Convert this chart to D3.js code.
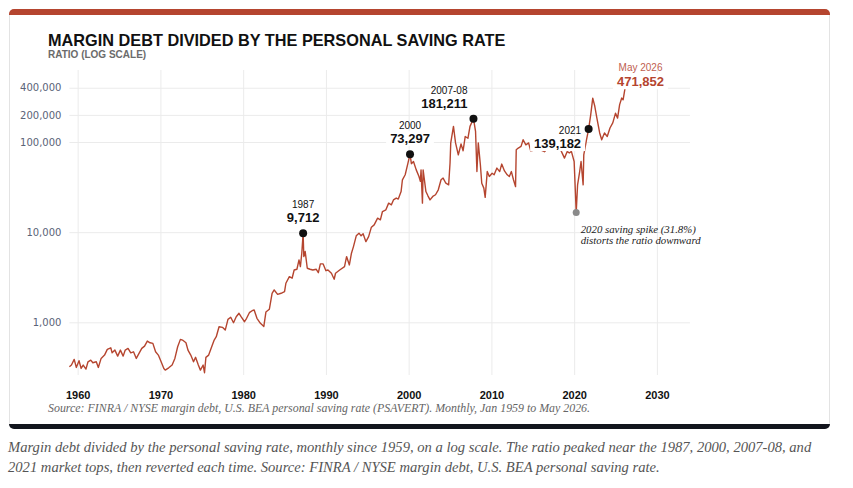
<!DOCTYPE html>
<html>
<head>
<meta charset="utf-8">
<script src="https://cdn.jsdelivr.net/npm/d3@7"></script>
<style>
  body { margin: 0; background: #fff; }
  svg { display: block; }
</style>
</head>
<body>
<div id="chart"></div>
<script>
// monthly ratio (a subset of months)
const dates = [
  "1959-01","1959-04","1959-08","1959-11","1960-03","1960-06","1960-09","1961-01","1961-04","1961-08","1961-11",
  "1962-04","1962-07","1962-11","1963-04","1963-08","1964-01","1964-03","1964-07","1964-11","1965-03","1965-07",
  "1965-10","1966-02","1966-06","1966-10","1967-02","1967-06","1967-10","1968-02","1968-06","1968-10","1969-02",
  "1969-06","1969-10","1970-02","1970-06","1970-08","1971-01","1971-06","1971-10","1972-02","1972-06","1972-09",
  "1973-02","1973-05","1973-09","1974-01","1974-04","1974-08","1974-11","1975-03","1975-05","1975-07","1975-11",
  "1976-03","1976-07","1976-10","1977-02","1977-07","1977-11","1978-03","1978-07","1978-11","1979-03","1979-07",
  "1979-10","1980-03","1980-06","1980-10","1981-02","1981-05","1981-09","1982-02","1982-07","1982-10","1983-03",
  "1983-07","1983-10","1984-03","1984-08","1985-01","1985-03","1985-08","1985-12","1986-03","1986-07","1986-10",
  "1986-12","1987-02","1987-04","1987-05","1987-07","1987-10","1988-02","1988-06","1988-11","1989-02","1989-05",
  "1989-09","1990-01","1990-04","1990-09","1991-01","1991-03","1991-09","1992-04","1992-07","1992-11","1993-02",
  "1993-05","1993-09","1994-01","1994-04","1994-07","1994-11","1995-03","1995-07","1995-11","1996-04","1996-08",
  "1996-11","1997-04","1997-08","1997-12","1998-03","1998-07","1998-10","1999-02","1999-04","1999-08","1999-12",
  "2000-03","2000-05","2000-08","2000-12","2001-04","2001-06","2001-07","2001-09","2001-10","2002-02","2002-05",
  "2002-08","2002-12","2003-04","2003-08","2003-12","2004-03","2004-07","2004-11","2005-01","2005-02","2005-06",
  "2005-09","2006-01","2006-05","2006-08","2006-11","2007-03","2007-06","2007-11","2008-02","2008-04","2008-06",
  "2008-09","2008-11","2009-02","2009-04","2009-07","2009-10","2010-02","2010-05","2010-09","2011-01","2011-04",
  "2011-08","2011-12","2012-03","2012-06","2012-09","2012-12","2013-01","2013-04","2013-08","2013-11","2014-03",
  "2014-07","2014-10","2015-06","2015-12","2016-06","2017-01","2017-08","2018-03","2018-11","2019-03","2019-06",
  "2019-09","2020-01","2020-04","2020-06","2020-09","2020-11","2021-02","2021-03","2021-07","2021-10","2022-01",
  "2022-04","2022-07","2022-10","2023-02","2023-05","2023-09","2024-01","2024-05","2024-09","2025-01","2025-04",
  "2025-07","2025-10","2025-12","2026-03","2026-05"
];
const ratio = [
  321, 336, 388, 316, 375, 308, 336, 303, 365, 381, 356,
  365, 316, 398, 433, 501, 522, 459, 492, 422, 492, 422,
  492, 514, 459, 471, 398, 452, 514, 545, 620, 593, 584,
  471, 433, 365, 308, 295, 313, 336, 398, 536, 647, 636,
  593, 492, 433, 365, 409, 336, 295, 336, 276, 409, 433,
  527, 636, 692, 894, 880, 821, 1080, 1137, 990, 1154, 1259,
  1154, 1015, 1108, 1279, 1346, 1370, 1108, 975, 900, 1300, 1394,
  2100, 2286, 2045, 2100, 2188, 2713, 3213, 3085, 3805, 3877, 4930,
  4145, 5840, 9712, 5360, 6100, 3980, 3877, 3805, 3877, 3553, 4446,
  4446, 3740, 3805, 3503, 3006, 3503, 3805, 4145, 5360, 4330, 5840,
  6920, 9100, 9750, 9100, 9580, 7850, 8930, 11360, 12050, 14300, 13700,
  16950, 17700, 21000, 20100, 22800, 23900, 23300, 28200, 38100, 43300, 58400,
  73297, 57500, 60800, 49100, 41500, 36600, 49100, 21000, 49100, 28200, 25300,
  22800, 24900, 26000, 29500, 38100, 39800, 34900, 33500, 58400, 97800, 149000,
  97800, 71900, 95000, 80000, 115000, 110000, 149000, 181211, 131000, 47000, 97800,
  56000, 34900, 30800, 24300, 47000, 41500, 45100, 43300, 51400, 47000, 56900,
  47800, 43300, 41500, 47000, 38100, 32000, 82000, 85700, 89500, 106000, 93000,
  97800, 79800, 82000, 82000, 78000, 88000, 95000, 90000, 66300, 78600, 75600,
  78600, 60800, 16550, 33500, 47000, 60800, 33500, 71900, 106000, 139182, 200000,
  307000, 249000, 184000, 126000, 106000, 126000, 115000, 143000, 163000, 209000, 184000,
  260000, 307000, 294000, 400000, 471852
];

const yTicks = [1000, 10000, 100000, 200000, 400000];
const xTicks = [1960, 1970, 1980, 1990, 2000, 2010, 2020, 2030];

const peakDates = ["1987-04", "2000-03", "2007-11", "2021-10"];
const peakNames = ["1987", "2000", "2007-08", "2021"];
const spikeDate = "2020-04";
const spikeNote = ["2020 saving spike (31.8%)", "distorts the ratio downward"];

const title = "MARGIN DEBT DIVIDED BY THE PERSONAL SAVING RATE";
const subtitle = "RATIO (LOG SCALE)";
const source = "Source: FINRA / NYSE margin debt, U.S. BEA personal saving rate (PSAVERT). Monthly, Jan 1959 to May 2026.";
const caption = [
  "Margin debt divided by the personal saving rate, monthly since 1959, on a log scale. The ratio peaked near the 1987, 2000, 2007-08, and",
  "2021 market tops, then reverted each time. Source: FINRA / NYSE margin debt, U.S. BEA personal saving rate."
];

const red = "#b5452f";
const sans = "'Liberation Sans', Arial, sans-serif";
const serif = "'Liberation Serif', Georgia, serif";

const width = 853, height = 488;
const plot = { left: 69.4, right: 690, top: 70, bottom: 375 };

const svg = d3.select("#chart").append("svg")
  .attr("width", width)
  .attr("height", height);

const parse = d3.timeParse("%Y-%m");
const data = dates.map((d, i) => ({ date: parse(d), value: ratio[i] }));
const find = (s) => data.find((d) => +d.date === +parse(s));

// card with coloured top and bottom bands
const defs = svg.append("defs");
defs.append("clipPath").attr("id", "card")
  .append("rect").attr("x", 9).attr("y", 9).attr("width", 821).attr("height", 420).attr("rx", 5);
svg.append("rect").attr("x", 9.5).attr("y", 9.5).attr("width", 820).attr("height", 419).attr("rx", 5)
  .attr("fill", "#fff").attr("stroke", "#e3e3e3");
svg.append("rect").attr("clip-path", "url(#card)")
  .attr("x", 9).attr("y", 9).attr("width", 821).attr("height", 6).attr("fill", red);
svg.append("rect").attr("clip-path", "url(#card)")
  .attr("x", 9).attr("y", 424).attr("width", 821).attr("height", 5).attr("fill", "#12151d");

// titles
svg.append("text").attr("x", 48).attr("y", 46)
  .style("font-family", sans).style("font-weight", "bold").style("font-size", "16.3px")
  .attr("fill", "#111").text(title);
svg.append("text").attr("x", 48).attr("y", 57.5)
  .style("font-family", sans).style("font-weight", "bold").style("font-size", "10px")
  .attr("fill", "#6b6b6b").text(subtitle);

// scales
const x = d3.scaleTime()
  .domain([new Date(1959, 0, 1), new Date(2034, 0, 1)])
  .range([plot.left, plot.right]);
const y = d3.scaleLog()
  .domain([260.5, 629000])
  .range([plot.bottom, plot.top]);

const xTickDates = xTicks.map((t) => new Date(t, 0, 1));

// gridlines
svg.append("g")
  .attr("transform", `translate(0,${plot.bottom})`)
  .call(d3.axisBottom(x).tickValues(xTickDates).tickSize(-(plot.bottom - plot.top)).tickFormat(""))
  .call((g) => g.select(".domain").remove())
  .call((g) => g.selectAll("line").attr("stroke", "#ebebeb"));
svg.append("g")
  .attr("transform", `translate(${plot.left},0)`)
  .call(d3.axisLeft(y).tickValues(yTicks).tickSize(-(plot.right - plot.left)).tickFormat(""))
  .call((g) => g.select(".domain").remove())
  .call((g) => g.selectAll("line").attr("stroke", "#ebebeb"));

// axis labels
svg.append("g")
  .attr("transform", `translate(0,${plot.bottom})`)
  .call(d3.axisBottom(x).tickValues(xTickDates).tickSize(0).tickPadding(16).tickFormat(d3.timeFormat("%Y")))
  .call((g) => g.select(".domain").remove())
  .call((g) => g.selectAll("text")
    .style("font-family", sans).style("font-weight", "bold").style("font-size", "11px").attr("fill", "#111"));
svg.append("g")
  .attr("transform", `translate(${plot.left - 8},0)`)
  .call(d3.axisLeft(y).tickValues(yTicks).tickSize(0).tickPadding(0).tickFormat(d3.format(",")))
  .call((g) => g.select(".domain").remove())
  .call((g) => g.selectAll("text")
    .style("font-family", "'DejaVu Sans', Verdana, sans-serif").style("font-size", "10px").attr("fill", "#5a6378"));

// the ratio line
const line = d3.line().x((d) => x(d.date)).y((d) => y(d.value));
svg.append("path").datum(data)
  .attr("d", line)
  .attr("fill", "none")
  .attr("stroke", red)
  .attr("stroke-width", 1.4)
  .attr("stroke-linejoin", "round");

// label helper: small name above a bold value with a white box behind it
function label(cx, yName, yValue, anchor, name, value, colorName, colorValue) {
  const g = svg.append("g");
  const t = g.append("text").attr("x", cx).attr("y", yValue).attr("text-anchor", anchor)
    .style("font-family", sans).style("font-weight", "bold").style("font-size", "13px")
    .attr("fill", colorValue).text(value);
  const b = t.node().getBBox();
  g.insert("rect", "text")
    .attr("x", b.x - 4).attr("y", yValue - 12).attr("width", b.width + 8).attr("height", 15)
    .attr("fill", "#fff");
  svg.insert("text", () => g.node()).attr("x", cx).attr("y", yName).attr("text-anchor", anchor)
    .style("font-family", sans).style("font-size", "10px")
    .attr("fill", colorName).text(name);
}

const fmt = d3.format(",");
const peaks = peakDates.map((s) => find(s));
peaks.forEach((p, i) => {
  const px = x(p.date), py = y(p.value);
  if (peakNames[i] === "2021") {
    label(px - 7.5, py + 5, py + 19, "end", peakNames[i], fmt(p.value), "#111", "#111");
  } else if (peakNames[i] === "2007-08") {
    label(px - 6, py - 25, py - 11, "end", peakNames[i], fmt(p.value), "#111", "#111");
  } else {
    label(px, py - 25, py - 11, "middle", peakNames[i], fmt(p.value), "#111", "#111");
  }
});

// latest value
const last = data[data.length - 1];
label(x(last.date) + 14, y(last.value) - 10, y(last.value) + 5, "middle",
  d3.timeFormat("%b %Y")(last.date), fmt(last.value), "#c0604f", red);

// peak dots
svg.append("g").selectAll("circle").data(peaks).join("circle")
  .attr("cx", (d) => x(d.date)).attr("cy", (d) => y(d.value))
  .attr("r", 4).attr("fill", "#111");

// 2020 saving-rate spike
const spike = find(spikeDate);
svg.append("circle").attr("cx", x(spike.date)).attr("cy", y(spike.value))
  .attr("r", 3.5).attr("fill", "#8a8a8a");
svg.append("g").selectAll("text").data(spikeNote).join("text")
  .attr("x", x(spike.date) + 4.5)
  .attr("y", (d, i) => y(spike.value) + 20.5 + i * 11.5)
  .style("font-family", serif).style("font-style", "italic").style("font-size", "10.8px")
  .attr("fill", "#222").text((d) => d);

// source line inside the card
svg.append("text").attr("x", 48).attr("y", 412)
  .style("font-family", serif).style("font-style", "italic").style("font-size", "11.9px")
  .attr("fill", "#666").text(source);

// caption under the card
svg.append("g").selectAll("text").data(caption).join("text")
  .attr("x", 8).attr("y", (d, i) => 452 + i * 19.5)
  .style("font-family", serif).style("font-style", "italic").style("font-size", "14.6px")
  .attr("fill", "#555").text((d) => d);
</script>
</body>
</html>
